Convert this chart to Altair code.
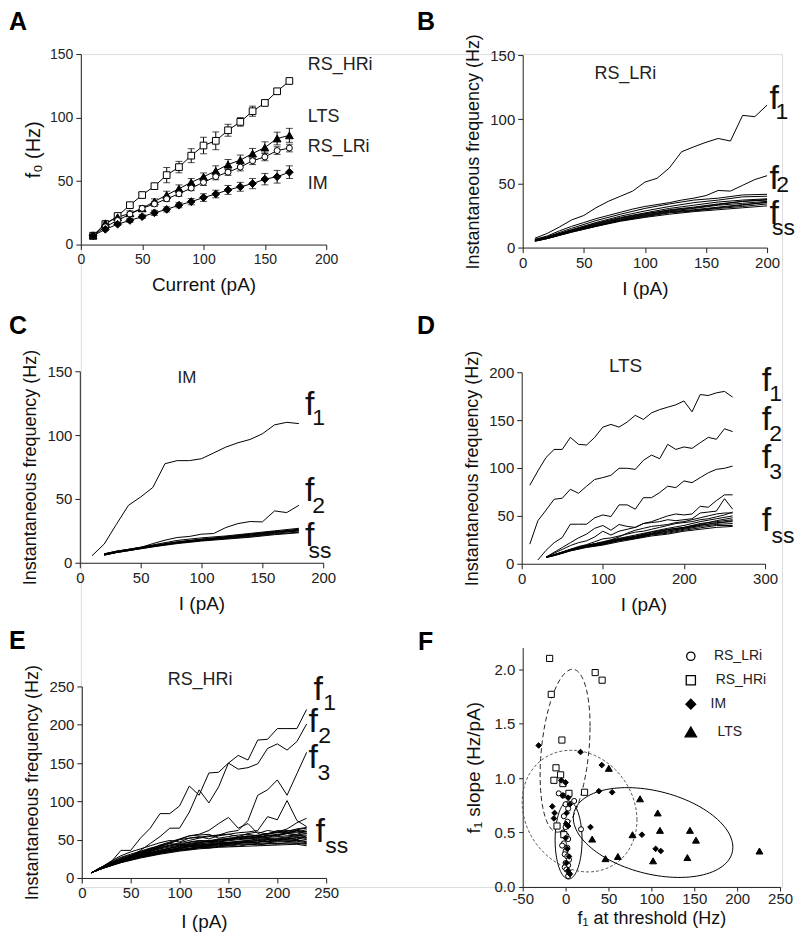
import altair as alt
import numpy as np
import pandas as pd

FONT = "Liberation Sans"

# ---------------- Panel A data ----------------
A_I = [10, 20, 30, 40, 50, 60, 70, 80, 90, 100, 110, 120, 130, 140, 150, 160, 170]
A_RS_HRi = [7, 16, 22.5, 31, 39, 46, 54.7, 61, 70, 78, 81.7, 90, 96.6, 105, 111.5, 120.7, 128.8]
A_RS_HRi_err = [1, 1.5, 1.5, 1.5, 2, 2, 6, 4.5, 5.5, 6.5, 7, 4.7, 3.4, 4, 1, 2, 1]
A_LTS = [7, 16.8, 21.5, 24.6, 28.5, 34, 39, 44, 49, 53.4, 58, 63, 66.5, 71.7, 76.4, 83.5, 86]
A_LTS_err = [1, 2, 1.5, 2, 2, 2, 3, 3, 3, 3, 4, 4, 4, 4, 4.5, 5, 5.5]
A_RS_LRi = [7, 14, 19, 24, 28.5, 32, 36, 40, 44.5, 49, 53.5, 57, 61, 66, 69, 74, 76]
A_RS_LRi_err = [1, 1.5, 1.5, 1.5, 2, 2, 2, 2, 2, 2.5, 2.5, 2.5, 3, 3, 3, 3, 3]
A_IM = [7, 12, 16, 19, 22, 25, 27.7, 31, 33.8, 37, 39.8, 43, 45.5, 48, 51.5, 53.4, 57]
A_IM_err = [1, 1, 1, 1.5, 1.5, 2, 2, 2, 2.5, 3, 3, 3.5, 3.5, 4, 4.5, 5, 5]
A_labels = ["RS_HRi", "LTS", "RS_LRi", "IM"]
A_label_y = [141, 100.5, 77, 48]
A_label_x = [185, 185, 185, 185]

# ---------------- Panel B data (RS_LRi) ----------------
B_I = [10, 20, 30, 40, 50, 60, 70, 80, 90, 100, 110, 120, 130, 140, 150, 160, 170, 180, 190, 200]
B_f1 = [7.3, 11, 16, 21.5, 25, 31, 36, 40, 44, 51, 54, 62, 74.6, 78.5, 82, 85, 83, 103, 102, 111]
B_f2 = [6.5, 9, 13, 16.5, 19.5, 22.5, 25, 27.5, 30, 32, 33.5, 35, 37, 38.5, 40.5, 44.5, 44, 48.5, 53, 56]
B_I_ss = [10, 20, 40, 60, 80, 100, 120, 140, 160, 180, 200]
B_ss = [
    [6, 8.5, 15, 21, 26, 30.5, 34, 37, 38.5, 41, 41.5],
    [6, 8, 14, 19.5, 24.5, 28.5, 32, 35, 37, 39.5, 40],
    [6, 8, 13.5, 19, 23.5, 27, 30.5, 33, 35.5, 37, 38],
    [5.5, 7.5, 13, 18, 22.5, 26, 29.5, 31.5, 34, 36, 37],
    [5.5, 7.5, 13, 17.5, 22, 25.5, 28.5, 30.5, 33, 34.5, 36],
    [5, 7, 12.5, 17, 21.5, 25, 28, 29.5, 31.5, 33.5, 35],
    [5, 7, 12, 16.5, 21, 24, 27, 28.5, 30.5, 32, 34],
    [5, 7, 12, 16.5, 20.5, 23.5, 26, 28, 29.5, 31, 32.5],
    [5.5, 7.5, 12.5, 17, 21, 24.5, 27.5, 29, 31, 33, 35.5],
    [6, 8, 13.5, 18.5, 23, 26.5, 29, 31, 33.5, 36, 37.5],
]
B_f_x = [202, 202, 202]
B_f_y = [108, 46, 18.6]
B_sub_text = ["1", "2", "ss"]
B_sub_x = [207, 207.5, 204]
B_sub_y = [100.5, 43.5, 10]

# ---------------- Panel C data (IM) ----------------
C_I1 = [10, 20, 30, 40, 50, 60, 70, 80, 90, 100, 110, 120, 130, 140, 150, 160, 170, 180]
C_f1 = [5.5, 14.6, 30, 45, 51.5, 59, 77.6, 80, 80, 81.5, 86, 90.6, 94, 96.6, 101, 108, 110, 109]
C_I2 = [20, 30, 40, 50, 60, 70, 80, 90, 100, 110, 120, 130, 140, 150, 160, 170, 180]
C_f2 = [6.8, 9, 10.5, 12, 15, 17.7, 19.8, 20.6, 22.4, 22.9, 27.6, 30.7, 32.3, 32, 40.6, 39.3, 45]
C_I_ss = [20, 30, 40, 60, 80, 100, 120, 140, 160, 180]
C_ss = [
    [7, 9, 10.5, 14, 17.5, 19.5, 21, 23, 25, 27],
    [6.5, 8.5, 10, 13.5, 16.5, 18.5, 20.5, 22.5, 24.5, 26],
    [6.5, 8.5, 10, 13, 16, 18, 20, 22, 24, 25.5],
    [6, 8, 9.5, 13, 16, 18, 19.5, 21, 23, 25],
    [6, 8, 9.5, 12.5, 15.5, 17.5, 19, 20.5, 22.5, 24],
    [6, 8, 9.5, 12.5, 15, 17, 18.5, 20, 22, 23.5],
    [6.5, 8.5, 10, 13, 15.5, 17.5, 19.5, 21.5, 23.5, 26.5],
    [7, 9, 10.5, 13.5, 16, 18.5, 20, 22, 24, 25],
]
C_f_x = [185, 185, 185]
C_f_y = [116, 48.4, 13.3]
C_sub_text = ["1", "2", "ss"]
C_sub_x = [191, 191, 188]
C_sub_y = [108, 39.3, 4]

# ---------------- Panel D data (LTS) ----------------
D_I1 = [10, 20, 30, 40, 50, 60, 70, 80, 90, 100, 110, 120, 130, 140, 150, 160, 170, 180, 190, 200, 210, 220, 230, 240, 250, 260]
D_f1 = [82, 97, 111, 119.4, 119.4, 132, 124.7, 124, 132, 142.7, 145.5, 142.7, 148, 155, 150.7, 157.6, 161, 163.5, 166, 170, 158.7, 176.7, 175.7, 178.5, 180, 174]
D_f2 = [20.5, 45, 56, 67.4, 68.4, 77.8, 73.6, 81, 88, 90, 92.4, 99.7, 99.7, 98.6, 108, 113.5, 109.7, 124.7, 119.4, 122, 120.5, 126.4, 132, 130, 141, 138]
D_I3 = [20, 30, 40, 50, 60, 70, 80, 90, 100, 110, 120, 130, 140, 150, 160, 170, 180, 190, 200, 210, 220, 230, 240, 250, 260]
D_f3 = [4, 14, 22, 27.4, 41.3, 41.3, 41.3, 48, 51, 49.3, 61.5, 61.5, 57, 69, 69, 74.3, 81, 79.5, 86.5, 84.7, 90, 95, 98.6, 99.7, 102]
D_Im = [30, 40, 50, 60, 70, 80, 90, 100, 110, 120, 130, 140, 150, 160, 170, 180, 190, 200, 210, 220, 230, 240, 250, 260]
D_mid = [
    [7, 12, 17, 22, 27, 31, 37, 40, 35, 41, 39, 38, 42, 44, 47, 50, 52, 51, 52, 60, 59, 66, 72, 72],
    [7, 11, 15, 19, 22, 24, 28, 34, 30, 34, 36, 38, 42, 43, 44, 46, 45, 46, 47, 53, 54, 55, 68, 57],
    [7, 9, 12, 15, 18, 20, 23, 26, 27, 29, 31, 33, 34, 36, 38, 40, 42, 43, 44, 46, 47, 49, 51, 54],
    [7, 9, 11, 14, 17, 19, 21, 23, 25, 28, 32, 35, 37, 39, 40, 41, 43, 44, 46, 48, 50, 52, 53, 53],
]
D_I_ss = [30, 40, 60, 80, 100, 120, 140, 160, 180, 200, 220, 240, 260]
D_ss = [
    [7, 9.5, 15, 19.5, 22, 26, 29, 33, 36, 38, 42, 44, 46],
    [7, 9, 14.5, 18.5, 21, 25, 28, 31.5, 34.5, 37, 40, 43, 44],
    [7, 9, 14, 18, 20.5, 24.5, 27, 30.5, 33, 36, 39, 41, 42],
    [6.5, 8.5, 13.5, 17.5, 20, 24, 26.5, 30, 32, 35, 37.5, 40, 40],
    [6.5, 8.5, 13.5, 17, 19.5, 23, 26, 29, 31, 34, 36, 38, 39],
    [7, 9, 14, 18.5, 21.5, 25.5, 28.5, 32, 35.5, 38, 41, 45, 48],
    [7, 9.5, 15, 19, 22.5, 26.5, 30, 33.5, 37, 40, 44, 47, 50],
    [7, 9, 14.5, 18, 21, 25, 27.5, 31, 34, 37, 40.5, 42, 45],
]
D_f_x = [296, 296, 296, 296]
D_f_y = [180, 140, 100, 34]
D_sub_text = ["1", "2", "3", "ss"]
D_sub_x = [305, 305, 305, 308]
D_sub_y = [170, 128, 88, 22]

# ---------------- Panel E data (RS_HRi) ----------------
E_I = [10, 20, 30, 40, 50, 60, 70, 80, 90, 100, 110, 120, 130, 140, 150, 160, 170, 180, 190, 200, 210, 220, 230]
E_f1 = [7, 14, 21, 36, 36, 52, 65, 84, 84, 94, 120, 108, 137, 138, 150, 160, 154, 180, 181, 195, 195, 195, 220]
E_f2 = [7, 12, 18, 24, 28, 36, 45, 54, 65, 65, 86, 115, 98, 119, 150, 142, 144, 149, 169, 175, 167, 178, 201]
E_f3 = [7, 13, 19, 24, 28, 33, 38, 42, 46, 50, 52, 53, 55, 56, 60, 62, 75, 108, 115, 128, 108, 136, 164]
E_mid = [
    [7, 13, 19, 24, 28, 32, 36, 40, 43, 46, 49, 52, 54, 56, 57, 59, 60, 62, 80, 76, 101, 75, 67],
    [7, 13, 19, 25, 29, 33, 37, 41, 45, 50, 55, 57, 62, 71, 79, 65, 71, 58, 62, 60, 62, 60, 63],
    [7, 12, 17, 22, 26, 30, 33, 36, 39, 42, 44, 46, 48, 50, 52, 53, 54, 55, 58, 60, 64, 72, 78],
    [7, 13, 19, 24, 29, 34, 38, 43, 47, 51, 55, 56, 57, 52, 54, 56, 57, 55, 58, 60, 59, 62, 60],
    [7, 13, 19, 24, 28, 31, 35, 38, 36, 40, 42, 40, 44, 43, 46, 45, 48, 46, 50, 49, 52, 50, 55],
    [7, 12, 18, 23, 27, 30, 34, 33, 37, 38, 41, 43, 42, 45, 44, 47, 46, 49, 48, 51, 50, 53, 52],
    [7, 14, 21, 27, 31, 35, 39, 42, 45, 43, 47, 49, 48, 51, 50, 53, 55, 52, 56, 55, 58, 57, 61],
    [7, 13, 20, 26, 30, 34, 37, 40, 42, 44, 43, 46, 48, 47, 50, 52, 51, 54, 53, 56, 58, 56, 58],
    [7, 12, 17, 21, 25, 29, 32, 34, 36, 38, 37, 40, 39, 41, 42, 41, 44, 43, 45, 44, 46, 45, 44],
    [7, 14, 22, 29, 34, 38, 42, 46, 49, 47, 52, 54, 51, 55, 57, 54, 58, 60, 57, 62, 61, 64, 66],
]
E_I_ss = [10, 20, 40, 60, 80, 100, 120, 140, 160, 180, 200, 220, 230]
E_ss = [
    [7, 12, 20, 26, 31, 35, 38, 40, 41, 42, 43, 44, 42],
    [7, 12, 21, 27, 32, 36, 39, 41, 43, 44, 45, 46, 45],
    [7, 13, 22, 28, 33, 37, 41, 43, 45, 47, 48, 49, 48],
    [7, 13, 22, 29, 35, 39, 43, 45, 48, 50, 50, 52, 50],
    [7, 14, 23, 30, 36, 41, 45, 47, 50, 52, 54, 56, 53],
    [7, 14, 24, 31, 38, 43, 47, 49, 52, 54, 57, 60, 58],
    [7, 13, 21, 28, 34, 40, 43, 46, 47, 51, 52, 55, 56],
    [7, 12, 20, 27, 32, 37, 40, 44, 46, 47, 49, 50, 47],
    [7, 13, 23, 30, 36, 42, 44, 48, 51, 53, 56, 62, 60],
    [7, 14, 24, 32, 39, 45, 48, 50, 53, 56, 59, 63, 65],
    [7, 12, 21, 28, 33, 36, 40, 42, 44, 45, 47, 48, 46],
    [7, 13, 22, 29, 34, 39, 42, 45, 47, 49, 51, 54, 52],
]
E_f_x = [237, 232, 232, 239]
E_f_y = [232, 190, 143, 47]
E_sub_text = ["1", "2", "3", "ss"]
E_sub_x = [247, 242, 241, 249]
E_sub_y = [219, 176, 127.6, 32.5]

# ---------------- Panel F data ----------------
F_LRi_x = [-8, -3, 10, 0, 3, -2, 2, 18, 0, -3, 1, 3, -2, -4, 2, 0, -1, 2, 4, 0, 3, -1, 1, 4, 3]
F_LRi_y = [0.86, 0.84, 0.79, 0.76, 0.72, 0.65, 0.6, 0.53, 0.55, 0.5, 0.47, 0.44, 0.4, 0.38, 0.36, 0.33, 0.3, 0.28, 0.25, 0.22, 0.2, 0.18, 0.16, 0.12, 0.1]
F_HRi_x = [-18.6, 34.5, 42.6, -16.7, -4.3, -11.2, -5.8, -13.6, -3.1, 3.9, 22.1, -10, -2]
F_HRi_y = [2.10, 1.97, 1.90, 1.77, 1.35, 1.095, 1.03, 0.98, 0.95, 0.86, 0.87, 0.56, 0.48]
F_IM_x = [-31.4, 17.4, 42.2, 0, -3.1, 38.8, 54.3, -15.5, -12.8, -13.6, 1.2, 0.6, 29, 89, 105, 111, -5, 3, 5, 3, 0, 2, 4, 1, 3, 5]
F_IM_y = [1.30, 1.24, 1.12, 0.96, 0.84, 0.88, 0.87, 0.74, 0.68, 0.63, 0.68, 0.58, 0.55, 0.48, 0.35, 0.33, 0.98, 0.82, 0.76, 0.56, 0.45, 0.35, 0.28, 0.22, 0.15, 0.12]
F_LTS_x = [50.4, 86.8, 107.4, 110, 145, 152, 78, 31, 46.5, 61, 102, 142, 226]
F_LTS_y = [1.09, 0.81, 0.68, 0.52, 0.52, 0.43, 0.48, 0.44, 0.26, 0.28, 0.24, 0.27, 0.33]
# ellipses: centre (x, y) and conjugate semi-axes a, b (data units)
F_ell_names = ["RS_LRi", "RS_HRi", "IM", "LTS"]
F_ell_c = [(3.5, 0.431), (-0.58, 1.252), (16.3, 0.697), (102, 0.5)]
F_ell_a = [(15.7, 0.0), (29.1, 0.224), (66.9, -0.0826), (93, -0.135)]
F_ell_b = [(0.0, 0.358), (0.0, 0.714), (0.0, 0.553), (0.0, 0.39)]
F_leg_names = ["RS_LRi", "RS_HRi", "IM", "LTS"]
F_leg_y = [2.12, 1.90, 1.68, 1.425]
F_leg_sym_x = [146, 146, 146, 146]
F_leg_lab_x = [173, 175, 169, 177]

# panel letters (in each panel's own data units)
LETTERS = ["A", "B", "C", "D", "E", "F"]
LETTER_X = [-58.5, -86.6, -58.2, -129, -74.5, -172]
LETTER_Y = [168.9, 169.4, 178.9, 239.6, 299.5, 2.174]

# overall view (pixels); every panel gets its own pixel window through its scale ranges
W, H = 703, 835


def ax(values, title, orient, offset, tick=5, lpad=3, tpad=8, lsize=15, tsize=18, fmt=None, expr=None):
    d = dict(values=values, title=title, orient=orient, offset=offset, grid=False, tickSize=tick,
             tickWidth=1, domainWidth=1, labelPadding=lpad, titlePadding=tpad, labelFontSize=lsize,
             titleFontSize=tsize, labelFont=FONT, titleFont=FONT, titleFontWeight="normal",
             labelColor="#222", titleColor="#111", domainColor="#222", tickColor="#222",
             labelOverlap=False, labelFlush=False)
    if fmt:
        d["format"] = fmt
    if expr:
        d["labelExpr"] = expr
    return alt.Axis(**d)


class Panel:
    def __init__(self, xdom, xr, ydom, yr, xax, yax):
        self.xs = alt.Scale(domain=xdom, range=xr, nice=False, zero=False)
        self.ys = alt.Scale(domain=ydom, range=yr, nice=False, zero=False)
        self.xax = xax
        self.yax = yax

    def X(self, f):
        return alt.X(f, scale=self.xs, axis=self.xax)

    def Y(self, f):
        return alt.Y(f, scale=self.ys, axis=self.yax)

    def text(self, xs, ys, texts, size, align="left", baseline="alphabetic", bold=False, color="#111"):
        df = pd.DataFrame({"xx": xs, "yy": ys, "t": texts})
        kw = dict(align=align, baseline=baseline, fontSize=size, font=FONT, color=color)
        if bold:
            kw["fontWeight"] = "bold"
        return alt.Chart(df).mark_text(**kw).encode(x=self.X("xx:Q"), y=self.Y("yy:Q"), text="t:N")


def letter_layer(p, i):
    return p.text([LETTER_X[i]], [LETTER_Y[i]], [LETTERS[i]], 25, bold=True, color="black")


# ---------------- Panel A ----------------
pA = Panel([0, 200], [0, 246], [0, 150], [191, 0],
           ax([0, 50, 100, 150, 200], "Current (pA)", "bottom", 191 - H, lsize=14, tsize=19, tpad=9),
           ax([0, 50, 100, 150], "f₀ (Hz)", "left", 0, lsize=14, tsize=20, tpad=6))
rowsA = []
for name, vals, errs in [("RS_HRi", A_RS_HRi, A_RS_HRi_err), ("LTS", A_LTS, A_LTS_err),
                         ("RS_LRi", A_RS_LRi, A_RS_LRi_err), ("IM", A_IM, A_IM_err)]:
    for i, v, e in zip(A_I, vals, errs):
        rowsA.append(dict(I=i, f=v, lo=v - e, hi=v + e, type=name))
bA = alt.Chart(pd.DataFrame(rowsA))
layersA = [
    bA.mark_line(color="black", strokeWidth=1).encode(x=pA.X("I:Q"), y=pA.Y("f:Q"), detail="type:N"),
    bA.mark_rule(color="black", strokeWidth=1).encode(x=pA.X("I:Q"), y=pA.Y("lo:Q"), y2="hi:Q"),
    bA.mark_tick(color="black", orient="horizontal", size=7, thickness=1).encode(x=pA.X("I:Q"), y=pA.Y("lo:Q")),
    bA.mark_tick(color="black", orient="horizontal", size=7, thickness=1).encode(x=pA.X("I:Q"), y=pA.Y("hi:Q")),
]
for name, shape, fill, size in [("RS_HRi", "square", "white", 45), ("LTS", "triangle-up", "black", 62),
                                ("RS_LRi", "circle", "white", 36), ("IM", "diamond", "black", 60)]:
    layersA.append(bA.transform_filter(alt.datum.type == name).mark_point(
        shape=shape, filled=True, fill=fill, stroke="black", strokeWidth=1, size=size, opacity=1).encode(
        x=pA.X("I:Q"), y=pA.Y("f:Q")))
layersA.append(pA.text(A_label_x, A_label_y, A_labels, 18, baseline="middle", color="#222"))
layersA.append(letter_layer(pA, 0))
panelA = alt.layer(*layersA)


# ---------------- Line panels B-E ----------------
def line_panel(p, spec, fx, fy, subx, suby, subt, lab, labx, laby, labsize, li):
    rows = []
    for name, xs, ys in spec:
        for k, (x, y) in enumerate(zip(xs, ys)):
            rows.append(dict(I=x, f=y, line=name, k=k))
    df = pd.DataFrame(rows)
    lines = alt.Chart(df).mark_line(color="black", strokeWidth=1).encode(
        x=p.X("I:Q"), y=p.Y("f:Q"), detail="line:N", order="k:Q")
    return alt.layer(
        lines,
        p.text(fx, fy, ["f"] * len(fy), 34),
        p.text(subx, suby, subt, 23),
        p.text([labx], [laby], [lab], labsize, align="center", baseline="middle", color="#222"),
        letter_layer(p, li),
    )


YT = "Instantaneous frequency (Hz)"
pB = Panel([0, 200], [443, 688], [0, 150], [194, 1],
           ax([0, 50, 100, 150, 200], "I (pA)", "bottom", 194 - H, tsize=19, tpad=9),
           ax([0, 50, 100, 150], YT, "left", -443, tpad=7))
specB = [("f1", B_I, B_f1), ("f2", B_I, B_f2)] + [("s%d" % i, B_I_ss, v) for i, v in enumerate(B_ss)]
panelB = line_panel(pB, specB, B_f_x, B_f_y, B_sub_x, B_sub_y, B_sub_text, "RS_LRi", 84, 135, 18, 1)

pC = Panel([0, 200], [-1, 243], [0, 150], [510, 318],
           ax([0, 50, 100, 150, 200], "I (pA)", "bottom", 510 - H, tsize=19, tpad=9),
           ax([0, 50, 100, 150], YT, "left", 1, tpad=7))
specC = [("f1", C_I1, C_f1), ("f2", C_I2, C_f2)] + [("s%d" % i, C_I_ss, v) for i, v in enumerate(C_ss)]
panelC = line_panel(pC, specC, C_f_x, C_f_y, C_sub_x, C_sub_y, C_sub_text, "IM", 88, 144.5, 17, 2)

pD = Panel([0, 300], [442, 686], [0, 200], [511, 319],
           ax([0, 100, 200, 300], "I (pA)", "bottom", 511 - H, tsize=19, tpad=9),
           ax([0, 50, 100, 150, 200], YT, "left", -442, tpad=7))
specD = ([("f1", D_I1, D_f1), ("f2", D_I1, D_f2), ("f3", D_I3, D_f3)]
         + [("m%d" % i, D_Im, v) for i, v in enumerate(D_mid)]
         + [("s%d" % i, D_I_ss, v) for i, v in enumerate(D_ss)])
panelD = line_panel(pD, specD, D_f_x, D_f_y, D_sub_x, D_sub_y, D_sub_text, "LTS", 128, 206, 19, 3)

pE = Panel([0, 250], [1, 246], [0, 250], [826, 634],
           ax([0, 50, 100, 150, 200, 250], "I (pA)", "bottom", 826 - H, tsize=19, tpad=12),
           ax([0, 50, 100, 150, 200, 250], YT, "left", -1, tpad=7))
specE = ([("f1", E_I, E_f1), ("f2", E_I, E_f2), ("f3", E_I, E_f3)]
         + [("m%d" % i, E_I, v) for i, v in enumerate(E_mid)]
         + [("s%d" % i, E_I_ss, v) for i, v in enumerate(E_ss)])
panelE = line_panel(pE, specE, E_f_x, E_f_y, E_sub_x, E_sub_y, E_sub_text, "RS_HRi", 121, 258, 18, 4)

# ---------------- Panel F ----------------
pF = Panel([-50, 250], [443, 701], [0, 2.2], [835, 595],
           ax([-50, 0, 50, 100, 150, 200, 250], "f₁ at threshold (Hz)", "bottom", 0, tick=4, lpad=1,
              tpad=3, tsize=18, expr="'' + datum.value"),
           ax([0, 0.5, 1.0, 1.5, 2.0], "f₁ slope (Hz/pA)", "left", -443, tick=4, lpad=4, tpad=10,
              tsize=19, fmt=".1f"))
t = np.linspace(0, 2 * np.pi, 121)
layersF = []
for name, c, a, b, dash, col in zip(F_ell_names, F_ell_c, F_ell_a, F_ell_b,
                                     [None, [5, 3], [3, 2], None],
                                     ["black", "#222", "#555", "black"]):
    dfe = pd.DataFrame({"x": c[0] + a[0] * np.cos(t) + b[0] * np.sin(t),
                        "y": c[1] + a[1] * np.cos(t) + b[1] * np.sin(t),
                        "k": np.arange(len(t))})
    kw = dict(color=col, strokeWidth=1)
    if dash:
        kw["strokeDash"] = dash
    layersF.append(alt.Chart(dfe).mark_line(**kw).encode(x=pF.X("x:Q"), y=pF.Y("y:Q"), order="k:Q"))
for xs, ys, shape, fill, size in [(F_LRi_x, F_LRi_y, "circle", "white", 26),
                                  (F_HRi_x, F_HRi_y, "square", "white", 38),
                                  (F_IM_x, F_IM_y, "diamond", "black", 32),
                                  (F_LTS_x, F_LTS_y, "triangle-up", "black", 48)]:
    layersF.append(alt.Chart(pd.DataFrame({"x": xs, "y": ys})).mark_point(
        shape=shape, filled=True, fill=fill, stroke="black", strokeWidth=1, size=size, opacity=1).encode(
        x=pF.X("x:Q"), y=pF.Y("y:Q")))
for i, (shape, fill, size) in enumerate([("circle", "white", 70), ("square", "white", 85),
                                         ("diamond", "black", 95), ("triangle-up", "black", 130)]):
    layersF.append(alt.Chart(pd.DataFrame({"x": [F_leg_sym_x[i]], "y": [F_leg_y[i]]})).mark_point(
        shape=shape, filled=True, fill=fill, stroke="black", strokeWidth=1.3, size=size, opacity=1).encode(
        x=pF.X("x:Q"), y=pF.Y("y:Q")))
layersF.append(pF.text(F_leg_lab_x, F_leg_y, F_leg_names, 14, baseline="middle", color="#222"))
layersF.append(letter_layer(pF, 5))
panelF = alt.layer(*layersF)

chart = alt.layer(panelA, panelB, panelC, panelD, panelE, panelF).resolve_scale(
    x="independent", y="independent").properties(width=W, height=H, padding=0,
                                                 background="white").configure_view(
    strokeWidth=0).configure(font=FONT)

chart.save("out.html", embed_options={"renderer": "svg", "actions": False})
